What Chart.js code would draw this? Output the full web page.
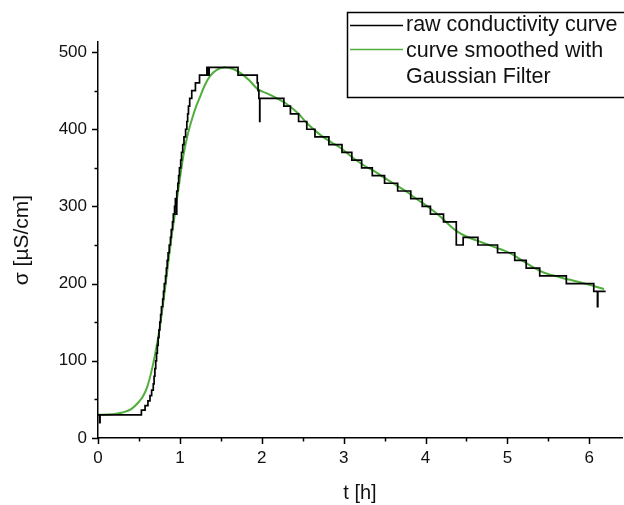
<!DOCTYPE html>
<html lang="en">
<head>
    <meta charset="UTF-8">
    <title>Conductivity curve</title>
    <script src="https://cdn.jsdelivr.net/npm/chart.js"></script>
    <style>
        body {
            margin: 0;
            padding: 0;
            background: #fff;
        }
        canvas {
            display: block;
        }
    </style>
</head>
<body>
    <canvas id="condChart" width="624" height="505"></canvas>

    <script>
        // raw conductivity curve (stepped, meter resolution ~10 µS/cm)
        const rawT = [0, 0.02, 0.025, 0.53, 0.575, 0.61, 0.635, 0.655, 0.675, 0.685, 0.695, 0.705, 0.715, 0.725, 0.735, 0.745,
            0.755, 0.765, 0.775, 0.79, 0.80, 0.81, 0.825, 0.835, 0.845, 0.856, 0.87, 0.885, 0.895, 0.91, 0.92, 0.935,
            0.945, 0.958, 0.962, 0.975, 0.985, 0.995, 1.01, 1.02, 1.035, 1.05, 1.07, 1.085, 1.095, 1.105, 1.12, 1.145,
            1.19, 1.24, 1.33, 1.34, 1.345, 1.352, 1.358, 1.71, 1.945, 1.955, 1.965, 1.975, 1.977, 2.27, 2.35, 2.45,
            2.55, 2.65, 2.82, 2.98, 3.10, 3.22, 3.35, 3.50, 3.66, 3.82, 3.96, 4.06, 4.22, 4.376, 4.46, 4.64,
            4.88, 5.09, 5.23, 5.395, 5.72, 6.055, 6.10, 6.105, 6.20];
        const rawS = [30, 20, 30, 36, 42, 48, 55, 62, 70, 80, 90, 100, 110, 120, 130, 140,
            150, 160, 170, 180, 190, 200, 210, 220, 230, 240, 250, 260, 270, 280, 290, 300,
            310, 290, 320, 330, 340, 350, 360, 370, 380, 390, 400, 410, 420, 430, 440, 450,
            460, 470, 480, 470, 480, 470, 480, 470, 460, 450, 440, 410, 440, 430, 420, 410,
            400, 390, 380, 370, 360, 350, 340, 330, 320, 310, 300, 290, 280, 250, 260, 250,
            240, 230, 220, 210, 200, 190, 170, 190, 190];

        // curve smoothed with Gaussian filter
        const smoothT = [0, 0.2, 0.3, 0.4, 0.5, 0.55, 0.6, 0.65, 0.7, 0.75, 0.8, 0.85, 0.9, 0.95, 1.0, 1.05, 1.1,
            1.15, 1.2, 1.25, 1.3, 1.37, 1.45, 1.55, 1.65, 1.75, 1.85, 1.95, 2.05, 2.15, 2.3, 2.45, 2.55, 2.7,
            2.85, 2.96, 3.1, 3.25, 3.37, 3.5, 3.65, 3.77, 3.9, 4.05, 4.18, 4.3, 4.38, 4.5, 4.62, 4.75, 4.88,
            5.0, 5.12, 5.24, 5.35, 5.45, 5.55, 5.65, 5.8, 5.95, 6.05, 6.18];
        const smoothS = [30, 31, 33, 37, 47, 54, 66, 85, 110, 140, 178, 220, 262, 298, 336, 370, 395,
            414, 430, 443, 456, 469, 477, 480, 478, 472, 463, 452, 447, 442, 433, 420, 408, 394,
            383, 376, 364, 353, 346, 337, 327, 319, 309, 298, 287, 275, 268, 261, 256, 251, 246,
            241, 234, 226, 219, 214, 211, 208, 204, 200, 197, 193];

        const xTicks = [0, 1, 2, 3, 4, 5, 6];
        const xMinor = [0.5, 1.5, 2.5, 3.5, 4.5, 5.5];
        const yTicks = [0, 100, 200, 300, 400, 500];
        const yMinor = [50, 150, 250, 350, 450];

        const FONT = "'Liberation Sans', Arial, sans-serif";
        const GREEN = '#4fae3c';

        // Origin-style outward ticks, long for major and short for minor
        const axisTicks = {
            id: 'axisTicks',
            afterDraw(chart) {
                const { ctx, chartArea, scales } = chart;
                ctx.save();
                ctx.strokeStyle = '#000';
                ctx.lineWidth = 1.5;
                ctx.beginPath();
                xTicks.concat(xMinor).forEach(v => {
                    const px = Math.round(scales.x.getPixelForValue(v)) + 0.5;
                    const len = xTicks.includes(v) ? 6 : 3.5;
                    ctx.moveTo(px, chartArea.bottom);
                    ctx.lineTo(px, chartArea.bottom + len);
                });
                yTicks.concat(yMinor).forEach(v => {
                    const py = Math.round(scales.y.getPixelForValue(v)) + 0.5;
                    const len = yTicks.includes(v) ? 6 : 3.5;
                    ctx.moveTo(chartArea.left, py);
                    ctx.lineTo(chartArea.left - len, py);
                });
                ctx.stroke();
                ctx.restore();
            }
        };

        // boxed legend in the top right corner, with a two-line entry
        const boxLegend = {
            id: 'boxLegend',
            afterDraw(chart) {
                const ctx = chart.ctx;
                ctx.save();
                ctx.strokeStyle = '#000';
                ctx.lineWidth = 1.5;
                ctx.strokeRect(347.5, 12.5, 290, 85);

                ctx.beginPath();
                ctx.moveTo(350, 25.5);
                ctx.lineTo(403, 25.5);
                ctx.stroke();
                ctx.strokeStyle = GREEN;
                ctx.beginPath();
                ctx.moveTo(350, 49.5);
                ctx.lineTo(403, 49.5);
                ctx.stroke();

                ctx.fillStyle = '#111';
                ctx.font = '21.5px ' + FONT;
                ctx.textBaseline = 'middle';
                ctx.fillText(chart.data.datasets[0].label, 406, 25);
                ctx.fillText('curve smoothed with', 406, 51);
                ctx.fillText('Gaussian Filter', 406, 77);
                ctx.restore();
            }
        };

        const ctx = document.getElementById('condChart').getContext('2d');
        new Chart(ctx, {
            type: 'line',
            data: {
                datasets: [
                    {
                        label: 'raw conductivity curve',
                        data: rawT.map((t, i) => ({ x: t, y: rawS[i] })),
                        stepped: true,
                        borderColor: '#000',
                        borderWidth: 1.7,
                        pointRadius: 0,
                        fill: false
                    },
                    {
                        label: 'curve smoothed with Gaussian Filter',
                        data: smoothT.map((t, i) => ({ x: t, y: smoothS[i] })),
                        borderColor: GREEN,
                        borderWidth: 2,
                        cubicInterpolationMode: 'monotone',
                        pointRadius: 0,
                        fill: false
                    }
                ]
            },
            options: {
                responsive: false,
                devicePixelRatio: 1,
                animation: false,
                layout: {
                    padding: { top: 42, right: 2, left: 0, bottom: 0 }
                },
                plugins: {
                    legend: { display: false },
                    tooltip: { enabled: false }
                },
                scales: {
                    x: {
                        type: 'linear',
                        min: 0,
                        max: 6.4,
                        afterBuildTicks: scale => { scale.ticks = xTicks.map(v => ({ value: v })); },
                        afterFit: scale => { scale.height = 67; },
                        grid: { display: false, drawTicks: false },
                        border: { display: true, color: '#000', width: 1.5 },
                        ticks: {
                            padding: 10,
                            color: '#111',
                            font: { family: FONT, size: 17 }
                        },
                        title: {
                            display: true,
                            text: 't [h]',
                            color: '#111',
                            padding: { top: 0, bottom: 0 },
                            font: { family: FONT, size: 20 }
                        }
                    },
                    y: {
                        type: 'linear',
                        min: 0,
                        max: 513,
                        afterBuildTicks: scale => { scale.ticks = yTicks.map(v => ({ value: v })); },
                        afterFit: scale => { scale.width = 98; },
                        grid: { display: false, drawTicks: false },
                        border: { display: true, color: '#000', width: 1.5 },
                        ticks: {
                            padding: 11,
                            color: '#111',
                            font: { family: FONT, size: 17 }
                        },
                        title: {
                            display: true,
                            text: 'σ [µS/cm]',
                            color: '#111',
                            padding: { top: 10, bottom: 0 },
                            font: { family: FONT, size: 21 }
                        }
                    }
                }
            },
            plugins: [axisTicks, boxLegend]
        });
    </script>
</body>
</html>
